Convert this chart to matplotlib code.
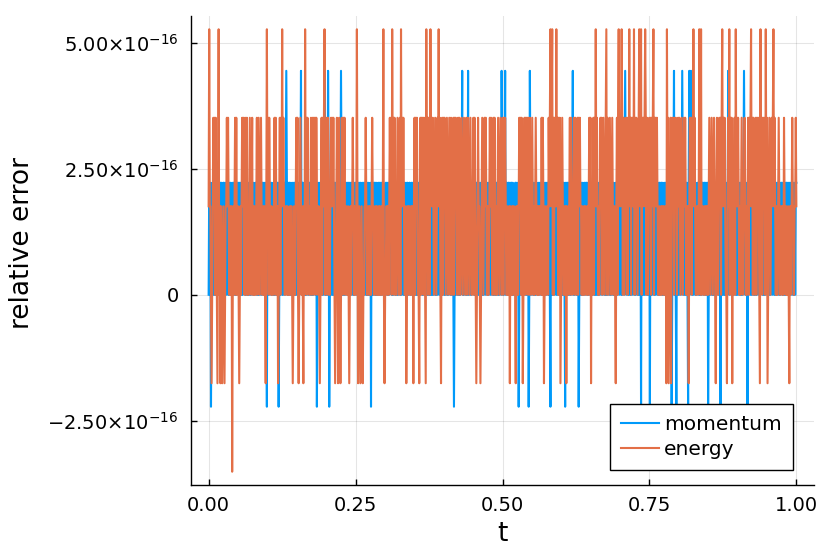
import numpy as np
import matplotlib
matplotlib.use("Agg")
import matplotlib.pyplot as plt

# ---- data (level codes) ----
# momentum: multiples of 2.22e-16 ; 'n' = -1
momentum_codes = (
    "0101n01101" "0010110101" "1010011010" "0110101100" "1011001011"
    "0110100101" "1101001010" "0101101001" "1001010110" "011010100n"
    "1010110100" "101001011n" "0101101011" "0121010110" "1001011010"
    "0101011201" "1010010110" "0110101001" "1011n01010" "0110101201"
    "01021n0110" "1010110101" "0110121010" "1001101011" "0101100101"
    "1011010110" "0101011010" "101001n101" "0110101001" "1010110100"
    "0110101011" "1001011010" "0101101001" "1010100110" "0110011011"
    "1001010110" "0110101101" "1010010101" "0101101010" "1101001011"
    "0101101001" "1010110n01" "0110100101" "1201011010" "0201101011"
    "1010011010" "0101101001" "1011010110" "0110100101" "1001011021"
    "0101201101" "1010110100" "0110101n01" "1011010110" "0101n02101"
    "1010010110" "0101101011" "1001011010" "0n10101101" "1010110010"
    "010110n101" "1010010112" "010110101n" "0110101001" "1011010110"
    "0101101010" "1010011011" "0110100101" "1001011010" "0101101101"
    "1010110121" "0110100101" "1011010110" "01011n1010" "1001101011"
    "n101011010" "0110101101" "1010010110" "0101101n01" "12010n1010"
    "0110121010" "10110n1201" "2101011010" "0110101001" "101101011n"
    "0101101010" "1010011011" "n110100101" "0102101101" "1010110100"
    "0110101001" "210101n101" "1010110010" "0101101011" "1001010110"
    "0110101101" "1010010110" "0101101010" "1011010101" "0110101011"
)
# energy: multiples of 1.755e-16 ; 'n' = -1, 'm' = -2
energy_codes = (
    "13110n0121" "20210n1301" "n10n010n01" "1212100101" "m010120201"
    "10n0101212" "1020120101" "2101201010" "0120121012" "1001010n13"
    "1202110100" "01202101n0" "1202131210" "0110100010" "110n010012"
    "120n012101" "0n10312021" "1001201202" "120211010n" "0120212301"
    "1202100121" "21210n0121" "n120n01202" "120110010n" "0101121010"
    "0131n010n0" "10n0011210" "0110100121" "1001101001" "010010130n"
    "0011010121" "2031202100" "1210120312" "121001n010" "11001011n1"
    "20212100n1" "202120210n" "3120210312" "1210121012" "13120n1202"
    "1210121012" "1021012021" "2101202101" "2101210120" "1210121001"
    "20210n0121" "10n0121012" "1210100121" "2101202101" "0121012101"
    "2021210010" "01n1001011" "00n1010121" "2021n01202" "1202102101"
    "2101012101" "0101102021" "n010011021" "2312302021" "13120202n0"
    "12100101n1" "0011202101" "1202101202" "1211010010" "1100101202"
    "n101202131" "2101012120" "1210123021" "0121012101" "10n1202312"
    "1232021012" "1202131202" "1213021210" "1231230212" "1232021012"
    "1202123021" "2121001001" "01101001n3" "12n012n121" "2021210121"
    "2101210121" "210101n121" "2021312100" "1101310301" "1001011010"
    "1210121012" "10n1210121" "2023121210" "0n12130212" "n101203121"
    "2101012101" "1210101202" "1231202101" "2021210n31" "2021210312"
    "n012101212" "3121010012" "1001101021" "1010010n10" "1121001121"
)
momentum_unit = 2.220446e-16
energy_unit = 1.755e-16
series_names = ["momentum", "energy"]
yticks = [-2.5e-16, 0.0, 2.5e-16, 5.0e-16]
ytick_labels = [r"$-2.50{\times}10^{-16}$", "0", r"$2.50{\times}10^{-16}$", r"$5.00{\times}10^{-16}$"]
xticks = [0.0, 0.25, 0.5, 0.75, 1.0]
xtick_labels = ["0.00", "0.25", "0.50", "0.75", "1.00"]

code_map = {"m": -2, "n": -1, "0": 0, "1": 1, "2": 2, "3": 3}
momentum = np.array([code_map[c] for c in momentum_codes]) * momentum_unit
energy = np.array([code_map[c] for c in energy_codes]) * energy_unit
t_m = np.linspace(0, 1, len(momentum))
t_e = np.linspace(0, 1, len(energy))

plt.rcParams["font.family"] = ["DejaVu Sans"]
plt.rcParams["mathtext.fontset"] = "dejavusans"

fig = plt.figure(figsize=(8.3, 5.54), dpi=100)
ax = fig.add_axes([191/830, 1 - 485/554, (814-191)/830, (485-16)/554])

ax.plot(t_m, momentum, color="#009AFA", lw=1.5, label=series_names[0])
ax.plot(t_e, energy, color="#E36F47", lw=1.5, label=series_names[1])

ax.set_xlim(-0.03, 1.03)
lo = min(momentum.min(), energy.min())
hi = max(momentum.max(), energy.max())
pad = 0.03 * (hi - lo)
ax.set_ylim(lo - pad, hi + pad)

ax.set_xticks(xticks)
ax.set_xticklabels(xtick_labels)
ax.set_yticks(yticks)
ax.set_yticklabels(ytick_labels)
ax.tick_params(direction="in", length=4, width=1, labelsize=14, colors="black")
ax.tick_params(axis="y", pad=9)
ax.tick_params(axis="x", pad=8)
ax.grid(True, color="black", alpha=0.1, lw=0.8)
for s in ["top", "right"]:
    ax.spines[s].set_visible(False)
for s in ["left", "bottom"]:
    ax.spines[s].set_linewidth(1.0)

ax.set_xlabel("t", fontsize=19)
ax.set_ylabel("relative error", fontsize=19)
ax.xaxis.set_label_coords(0.5, (485 - 521) / 469)
ax.yaxis.set_label_coords((35 - 191) / 623, 0.517)

leg = ax.legend(loc="lower right", bbox_to_anchor=((793-191)/623, 15/469),
                borderaxespad=0, fancybox=False, fontsize=14.5, handlelength=1.9,
                handletextpad=0.25, framealpha=1, edgecolor="black",
                borderpad=0.55, labelspacing=0.3)
leg.get_frame().set_linewidth(1.0)

fig.savefig("out.png", dpi=100)
